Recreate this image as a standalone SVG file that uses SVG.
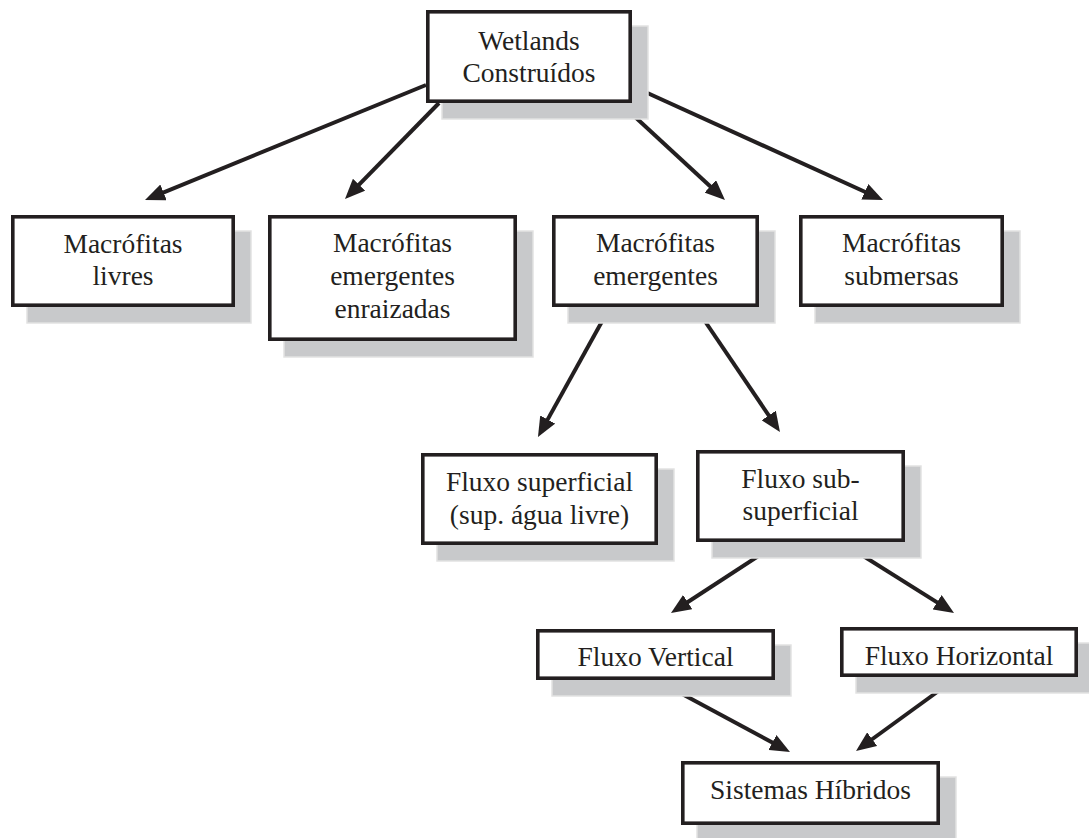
<svg xmlns="http://www.w3.org/2000/svg" width="1089" height="838" viewBox="0 0 1089 838">
<style>
.shadow{fill:#c8c9cb;stroke:#e2e2e2;stroke-width:1.5}
.box{fill:#ffffff;stroke:#231f20;stroke-width:3.6}
.lbl{font-family:"Liberation Serif","Times New Roman",serif;font-size:27.5px;fill:#231f20;text-anchor:middle}
.conn{stroke:#231f20;stroke-width:4;fill:none;marker-end:url(#arr)}
</style>
<defs>
<marker id="arr" viewBox="0 0 20 17" refX="9" refY="8.5" markerWidth="20" markerHeight="17" markerUnits="userSpaceOnUse" orient="auto">
<path d="M0,0 L20,8.5 L0,17 Z" fill="#231f20"/>
</marker>
</defs>
<rect width="1089" height="838" fill="#ffffff"/>
<g id="connectors">
<line class="conn" x1="426" y1="85" x2="155.2" y2="195.8"/>
<line class="conn" x1="439" y1="103" x2="352.7" y2="191.1"/>
<line class="conn" x1="620" y1="103" x2="716.9" y2="192.5"/>
<line class="conn" x1="632" y1="86" x2="873.0" y2="195.5"/>
<line class="conn" x1="610" y1="307" x2="543.3" y2="427.4"/>
<line class="conn" x1="696" y1="308" x2="773.8" y2="422.9"/>
<line class="conn" x1="780" y1="542" x2="680.2" y2="607.0"/>
<line class="conn" x1="841" y1="542" x2="944.7" y2="607.1"/>
<line class="conn" x1="671" y1="688" x2="780.3" y2="746.8"/>
<line class="conn" x1="955" y1="679" x2="864.9" y2="744.5"/>
</g>
<g id="n0">
<rect class="shadow" x="442" y="26" width="206" height="93"/>
<rect class="box" x="427.8" y="11.8" width="202.4" height="89.4"/>
<text class="lbl" x="529" y="50">Wetlands</text>
<text class="lbl" x="529" y="82">Construídos</text>
</g>
<g id="n1">
<rect class="shadow" x="27" y="231" width="224" height="92"/>
<rect class="box" x="12.8" y="216.8" width="220.4" height="88.4"/>
<text class="lbl" x="123" y="253">Macrófitas</text>
<text class="lbl" x="123" y="285">livres</text>
</g>
<g id="n2">
<rect class="shadow" x="284" y="231" width="249" height="126"/>
<rect class="box" x="269.8" y="216.8" width="245.4" height="122.4"/>
<text class="lbl" x="392.5" y="252">Macrófitas</text>
<text class="lbl" x="392.5" y="285">emergentes</text>
<text class="lbl" x="392.5" y="318">enraizadas</text>
</g>
<g id="n3">
<rect class="shadow" x="568" y="231" width="207" height="92"/>
<rect class="box" x="553.8" y="216.8" width="203.4" height="88.4"/>
<text class="lbl" x="655.5" y="252">Macrófitas</text>
<text class="lbl" x="655.5" y="285">emergentes</text>
</g>
<g id="n4">
<rect class="shadow" x="815" y="231" width="205" height="92"/>
<rect class="box" x="800.8" y="216.8" width="201.4" height="88.4"/>
<text class="lbl" x="901.5" y="252">Macrófitas</text>
<text class="lbl" x="901.5" y="285">submersas</text>
</g>
<g id="n5">
<rect class="shadow" x="437" y="469" width="237" height="92"/>
<rect class="box" x="422.8" y="454.8" width="233.4" height="88.4"/>
<text class="lbl" x="539.5" y="491">Fluxo superficial</text>
<text class="lbl" x="539.5" y="524">(sup. água livre)</text>
</g>
<g id="n6">
<rect class="shadow" x="712" y="466" width="209" height="92"/>
<rect class="box" x="697.8" y="451.8" width="205.4" height="88.4"/>
<text class="lbl" x="800.5" y="488">Fluxo sub-</text>
<text class="lbl" x="800.5" y="520">superficial</text>
</g>
<g id="n7">
<rect class="shadow" x="552" y="645" width="239" height="51"/>
<rect class="box" x="537.8" y="630.8" width="235.4" height="47.4"/>
<text class="lbl" x="655.5" y="666">Fluxo Vertical</text>
</g>
<g id="n8">
<rect class="shadow" x="856" y="643" width="238" height="50"/>
<rect class="box" x="841.8" y="628.8" width="234.4" height="46.4"/>
<text class="lbl" x="959" y="665">Fluxo Horizontal</text>
</g>
<g id="n9">
<rect class="shadow" x="697" y="777" width="259" height="64"/>
<rect class="box" x="682.8" y="762.8" width="255.4" height="60.4"/>
<text class="lbl" x="810.5" y="799">Sistemas Híbridos</text>
</g>
</svg>
